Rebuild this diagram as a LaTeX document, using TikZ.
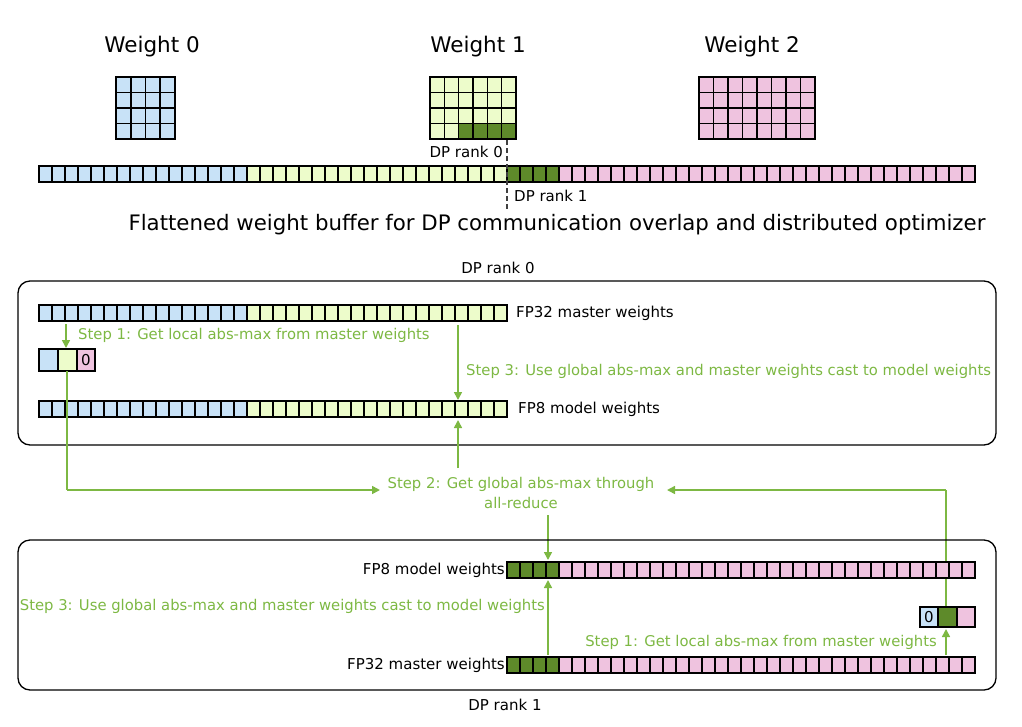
\documentclass[tikz,border=0pt]{standalone}
\usepackage{fontspec}
\setmainfont{DejaVu Sans}
\usetikzlibrary{arrows.meta}
\definecolor{cb}{HTML}{C8E2F7}
\definecolor{cg}{HTML}{EDFCCB}
\definecolor{cd}{HTML}{5E8A2A}
\definecolor{cp}{HTML}{EFC3DF}
\definecolor{tg}{HTML}{7DB843}
\newcommand\myrow[5]{\foreach \i in {1,...,#3}{\draw[cell,fill=#4] ({#1+(\i-1)*#5},#2) rectangle ++(#5,16);}}
\newcommand\mygrid[6]{\foreach \i in {1,...,#3}{\foreach \j in {1,...,#4}{\draw[cell,fill=#5] ({#1+(\i-1)*#6},{#2+(\j-1)*15.5}) rectangle ++(#6,15.5);}}}
\begin{document}
\begin{tikzpicture}[x=1pt,y=-1pt,
  cell/.style={draw=black,line width=1.6pt},
  box/.style={draw=black,line width=1.3pt,rounded corners=12pt},
  garr/.style={draw=tg,line width=1.6pt,-{Triangle[length=8pt,width=8pt]}},
  gline/.style={draw=tg,line width=1.6pt},
  title/.style={font=\fontsize{21.5}{24}\selectfont},
  lbl/.style={font=\fontsize{15}{18}\selectfont,inner sep=0pt},
  stp/.style={font=\fontsize{14.8}{20}\selectfont,text=tg,inner sep=0pt}]
\useasboundingbox (0,0) rectangle (1022,726);
% titles
\node[title] (w0) at (152,47) {Weight 0};
\node[title] (w1) at (478,47) {Weight 1};
\node[title] (w2) at (752,47) {Weight 2};
% grids
\mygrid{116}{77}{4}{4}{cb}{14.75}
\mygrid{430}{77}{6}{4}{cg}{14.33}
\foreach \i in {3,...,6}{\draw[cell,fill=cd] ({430+(\i-1)*14.33},{77+3*15.5}) rectangle ++(14.33,15.5);}
\mygrid{699}{77}{8}{4}{cp}{14.5}
% flattened buffer
\myrow{39}{166}{16}{cb}{13}
\myrow{247}{166}{20}{cg}{13}
\myrow{507}{166}{4}{cd}{13}
\myrow{559}{166}{32}{cp}{13}
\draw[line width=1.1pt,black!75,dash pattern=on 5pt off 3pt] (507,140) -- (507,210);
\node[lbl,anchor=east] (r0) at (503,152) {DP rank 0};
\node[lbl,anchor=west] (r1) at (514,196) {DP rank 1};
\node[font=\fontsize{21.3}{24}\selectfont] (cap) at (557,225) {Flattened weight buffer for DP communication overlap and distributed optimizer};
% rank 0 box
\node[lbl] (dp0) at (498,268) {DP rank 0};
\draw[box] (18,281) rectangle (996,445);
\myrow{39}{305}{16}{cb}{13}
\myrow{247}{305}{20}{cg}{13}
\node[lbl,anchor=west] (m0) at (516,313) {FP32 master weights};
\draw[cell,fill=cb] (39,349) rectangle (58,371);
\draw[cell,fill=cg] (58,349) rectangle (77,371);
\draw[cell,fill=cp] (77,349) rectangle (95,371);
\node[lbl] (z0) at (86,360) {0};
\myrow{39}{401}{16}{cb}{13}
\myrow{247}{401}{20}{cg}{13}
\node[lbl,anchor=west] (f0) at (518,409) {FP8 model weights};
\coordinate (s1a) at (66,324); \coordinate (s1b) at (66,348);
\draw[garr] (s1a) -- (s1b);
\node[stp,anchor=west] (t1) at (78,335) {Step 1: Get local abs-max from master weights};
\coordinate (s3a) at (458,325); \coordinate (s3b) at (458,400);
\draw[garr] (s3a) -- (s3b);
\node[stp,anchor=west] (t3) at (466,371) {Step 3: Use global abs-max and master weights cast to model weights};
% step 2
\node[stp,align=center] (t2) at (521,493) {Step 2: Get global abs-max through\\all-reduce};
\draw[gline] (67,371) -- (67,490);
\draw[garr] (67,490) -- (380,490);
\draw[garr] (458,468) -- (458,420);
\draw[garr] (548,515) -- (548,560);
\draw[gline] (946,606) -- (946,490);
\draw[garr] (946,490) -- (667,490);
% rank 1 box
\draw[box] (18,540) rectangle (996,690);
\node[lbl] (dp1) at (505,705) {DP rank 1};
\myrow{507}{562}{4}{cd}{13}
\myrow{559}{562}{32}{cp}{13}
\node[lbl,anchor=east] (f1) at (505,570) {FP8 model weights};
\myrow{507}{657}{4}{cd}{13}
\myrow{559}{657}{32}{cp}{13}
\node[lbl,anchor=east] (m1) at (505,665) {FP32 master weights};
\draw[cell,fill=cb] (920,607) rectangle (938,627);
\draw[cell,fill=cd] (938,607) rectangle (957,627);
\draw[cell,fill=cp] (957,607) rectangle (975,627);
\node[lbl] (z1) at (929,617) {0};
\draw[garr] (548,655) -- (548,580);
\node[stp,anchor=east] (u3) at (545,606) {Step 3: Use global abs-max and master weights cast to model weights};
\draw[garr] (946,655) -- (946,629);
\node[stp,anchor=east] (u1) at (937,642) {Step 1: Get local abs-max from master weights};
\end{tikzpicture}
\end{document}
